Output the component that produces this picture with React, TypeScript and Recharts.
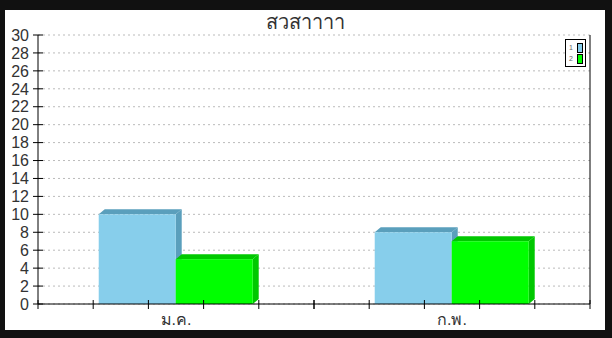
import React from "react";
import { BarChart, Bar, XAxis, YAxis, CartesianGrid } from "recharts";

const categories = ["ม.ค.", "ก.พ."];
const series1 = [10, 8];
const series2 = [5, 7];
const seriesNames = ["1", "2"];
const yTicks = [0, 2, 4, 6, 8, 10, 12, 14, 16, 18, 20, 22, 24, 26, 28, 30];
const minorPerCategory = 5;
const title = "สวสาาาา";

const data = categories.map((name, i) => ({ name, s1: series1[i], s2: series2[i] }));

const colors = [
  { front: "#87CEEB", dark: "#5A9FBC" },
  { front: "#00FF00", dark: "#00C800" },
];

const FONT = "Liberation Sans, Arial, sans-serif";

const make3D = (c: { front: string; dark: string }) => (props: any) => {
  const { x, y, width, height } = props;
  if (width == null || height == null) return null;
  const dx = 6;
  const dy = 5;
  return (
    <g>
      <polygon
        points={`${x},${y} ${x + dx},${y - dy} ${x + width + dx},${y - dy} ${x + width},${y}`}
        fill={c.dark}
      />
      <polygon
        points={`${x + width},${y} ${x + width + dx},${y - dy} ${x + width + dx},${y + height - dy} ${x + width},${y + height}`}
        fill={c.dark}
      />
      <rect x={x} y={y} width={width} height={height} fill={c.front} />
    </g>
  );
};

const YTick = (props: any) => {
  const { x, y, payload } = props;
  return (
    <g>
      <line x1={x - 5} x2={x + 5} y1={y} y2={y} stroke="#000" strokeWidth={1} />
      <text x={x - 9} y={y} dy="0.36em" textAnchor="end" fontSize={16} fontFamily={FONT} fill="#333">
        {payload.value}
      </text>
    </g>
  );
};

const XTick = (props: any) => {
  const { x, y, payload } = props;
  const half = payload.offset || 0;
  const start = payload.coordinate - half;
  const step = (2 * half) / minorPerCategory;
  const lines = [];
  for (let k = 0; k <= minorPerCategory; k++) {
    const lx = start + k * step;
    lines.push(<line key={k} x1={lx} x2={lx} y1={y - 4} y2={y + 5} stroke="#000" strokeWidth={1} />);
  }
  return (
    <g>
      {lines}
      <text x={x} y={y + 10} dy="0.71em" textAnchor="middle" fontSize={16} fontFamily={FONT} fill="#333">
        {payload.value}
      </text>
    </g>
  );
};

const rightEdge = ({ offset }: any) => [offset.left + offset.width];

export default function App() {
  return (
    <div style={{ position: "fixed", left: 0, top: 0, width: 612, height: 338, background: "#111" }}>
      <div style={{ position: "absolute", left: 5, top: 10, width: 600, height: 320, background: "#fff" }}>
        <div
          style={{
            position: "absolute",
            left: 0,
            top: 0,
            width: 600,
            textAlign: "center",
            fontSize: 20,
            color: "#333",
            fontFamily: FONT,
            lineHeight: "24px",
          }}
        >
          {title}
        </div>
        <BarChart
          width={600}
          height={320}
          data={data}
          margin={{ top: 25, right: 15, bottom: 0, left: 0 }}
          barCategoryGap="22%"
          barGap={0}
        >
          <CartesianGrid horizontal vertical={false} stroke="#bbb" strokeDasharray="2 3" />
          <CartesianGrid
            horizontal={false}
            vertical
            verticalCoordinatesGenerator={rightEdge}
            stroke="#000"
          />
          <XAxis
            dataKey="name"
            height={26}
            tickLine={false}
            tickSize={0}
            tickMargin={0}
            axisLine={{ stroke: "#000" }}
            tick={<XTick />}
            interval={0}
          />
          <YAxis
            width={33}
            domain={[0, 30]}
            ticks={yTicks}
            interval={0}
            tickSize={0}
            tickMargin={0}
            tickLine={false}
            axisLine={{ stroke: "#000" }}
            tick={<YTick />}
          />
          <Bar dataKey="s1" name={seriesNames[0]} fill={colors[0].front} shape={make3D(colors[0])} isAnimationActive={false} />
          <Bar dataKey="s2" name={seriesNames[1]} fill={colors[1].front} shape={make3D(colors[1])} isAnimationActive={false} />
        </BarChart>
        <div
          style={{
            position: "absolute",
            left: 560,
            top: 29,
            width: 19,
            height: 26,
            border: "1px solid #000",
            background: "#fff",
          }}
        >
          {seriesNames.map((n, i) => (
            <div key={n} style={{ position: "absolute", left: 0, top: 3 + i * 11, height: 10, width: 19 }}>
              <span
                style={{
                  position: "absolute",
                  left: 3,
                  top: 1,
                  fontSize: 7,
                  lineHeight: "8px",
                  color: "#666",
                  fontFamily: FONT,
                }}
              >
                {n}
              </span>
              <div
                style={{
                  position: "absolute",
                  left: 11,
                  top: 0,
                  width: 4,
                  height: 8,
                  border: "1px solid #000",
                  background: colors[i].front,
                }}
              />
            </div>
          ))}
        </div>
      </div>
    </div>
  );
}
